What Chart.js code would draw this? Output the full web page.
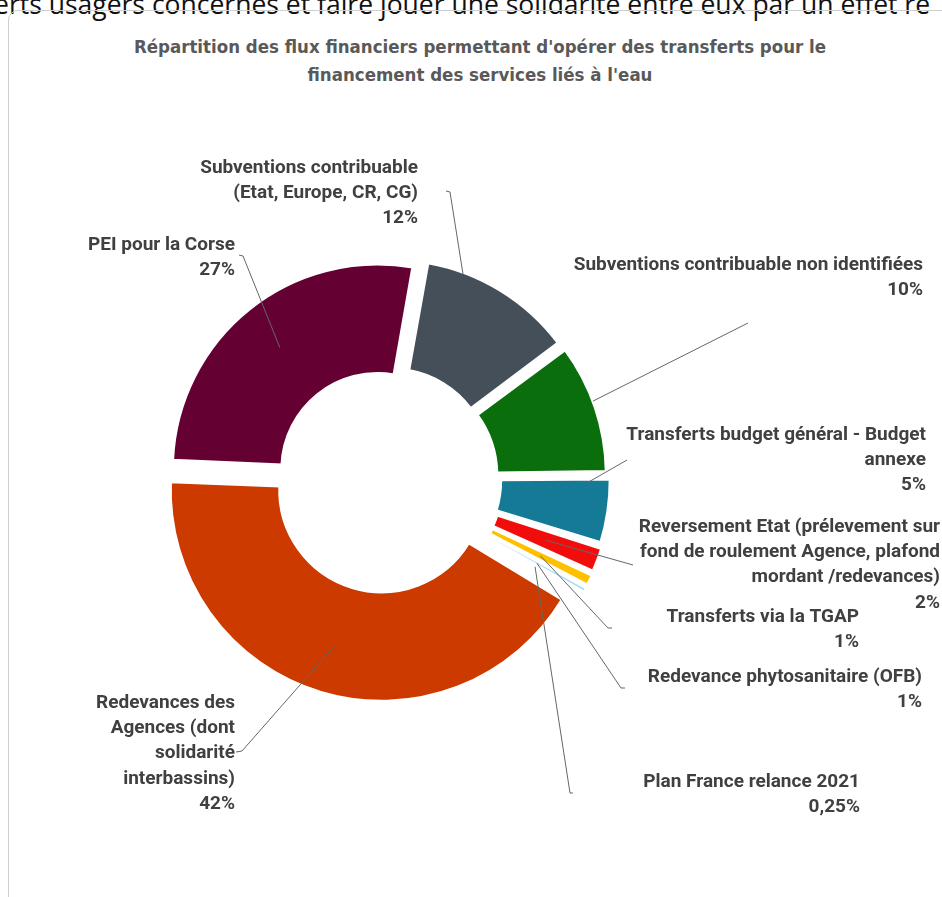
<!DOCTYPE html>
<html>
<head>
<meta charset="utf-8">
<script src="https://cdn.jsdelivr.net/npm/chart.js@4.4.1/dist/chart.umd.min.js"></script>
<style>
  html, body { margin: 0; padding: 0; background: #fff; }
  body { width: 942px; height: 897px; overflow: hidden; position: relative; }
  .lead { position: absolute; left: -6px; top: -11px; white-space: nowrap; font: 26.5px/30px "Open Sans", sans-serif; color: #111; }
  .card { position: absolute; left: 8px; top: 10px; width: 980px; height: 940px; border: 1px solid #cfcfcf; border-radius: 10px; box-sizing: border-box; }
  .title { position: absolute; left: 0; top: 33px; width: 960px; text-align: center; font: bold 18.5px/28px "DejaVu Sans Condensed", sans-serif; color: #595959; }
  canvas { position: absolute; left: 0; top: 0; }
</style>
</head>
<body>
<div class="lead">erts usagers concernés et faire jouer une solidarité entre eux par un effet re</div>
<div class="card"></div>
<div class="title">Répartition des flux financiers permettant d'opérer des transferts pour le<br>financement des services liés à l'eau</div>
<canvas id="c" width="942" height="897"></canvas>
<script>
// slices, clockwise from 9 o'clock
const categories = [
  'PEI pour la Corse',
  'Subventions contribuable (Etat, Europe, CR, CG)',
  'Subventions contribuable non identifiées',
  'Transferts budget général - Budget annexe',
  'Reversement Etat (prélevement sur fond de roulement Agence, plafond mordant /redevances)',
  'Transferts via la TGAP',
  'Redevance phytosanitaire (OFB)',
  'Plan France relance 2021',
  'Redevances des Agences (dont solidarité interbassins)'
];
const shares = [27, 12, 10, 5, 2, 1, 0.5, 0.25, 42];
const shareText = ['27%', '12%', '10%', '5%', '2%', '1%', '1%', '0,25%', '42%'];
const labelLines = [
  ['PEI pour la Corse'],
  ['Subventions contribuable', '(Etat, Europe, CR, CG)'],
  ['Subventions contribuable non identifiées'],
  ['Transferts budget général - Budget', 'annexe'],
  ['Reversement Etat (prélevement sur', 'fond de roulement Agence, plafond', 'mordant /redevances)'],
  ['Transferts via la TGAP'],
  ['Redevance phytosanitaire (OFB)'],
  ['Plan France relance 2021'],
  ['Redevances des', 'Agences (dont', 'solidarité', 'interbassins)']
];
const colors = ['#650033', '#454f59', '#0a6e0c', '#157a96', '#f20d0d', '#ffc000', '#a6dcf2', '#8cc8e6', '#cc3a00'];
const borders = [3, 3, 3, 3, 2.5, 2, 1.5, 1, 3];

// label placement: right edge x, centre y of first line
const labelPos = [[235, 245], [418, 168], [923, 265], [926, 435], [940, 527], [859, 617], [922, 677], [860, 782], [235, 703]];
const lineGap = 25.3;
// leader line: end near label, elbow
const leaders = [
  [[239, 255], [243, 256]],
  [[446, 191], [450, 192]],
  [[748, 323], [748, 323]],
  [[627, 460], [627, 460]],
  [[633, 565], [633, 565]],
  [[612, 628], [608, 628]],
  [[625, 688], [621, 688]],
  [[573, 793], [570, 793]],
  [[236, 752], [242, 751]]
];
// where the leader touches the slice: fraction along the angle, fraction across the ring
const anchors = [[0.5, 0.55], [0.24, 0.98], [0.45, 1.0], [0.08, 0.79], [0.5, 0.5], [0.5, 0.5], [0.5, 0.5], [0.5, 0.5], [0.5, 0.55]];

const callouts = {
  id: 'callouts',
  afterDatasetsDraw(chart) {
    const ctx = chart.ctx;
    const arcs = chart.getDatasetMeta(0).data;
    ctx.save();
    arcs.forEach((arc, i) => {
      const p = arc.getProps(['x', 'y', 'startAngle', 'endAngle', 'innerRadius', 'outerRadius'], true);
      const off = (arc.options.offset || 0) / 4;
      const circ = p.endAngle - p.startAngle;
      const mid = (p.startAngle + p.endAngle) / 2;
      const grow = off * (1 - Math.sin(Math.min(Math.PI, circ)));
      const a = p.startAngle + anchors[i][0] * circ;
      const r = p.innerRadius + anchors[i][1] * (p.outerRadius - p.innerRadius) + grow;
      const ax = p.x + Math.cos(mid) * off + Math.cos(a) * r;
      const ay = p.y + Math.sin(mid) * off + Math.sin(a) * r;

      ctx.strokeStyle = '#666666';
      ctx.lineWidth = 1;
      ctx.beginPath();
      ctx.moveTo(leaders[i][0][0], leaders[i][0][1]);
      ctx.lineTo(leaders[i][1][0], leaders[i][1][1]);
      ctx.lineTo(ax, ay);
      ctx.stroke();

      ctx.fillStyle = '#404040';
      ctx.font = 'bold 19px Roboto';
      ctx.textAlign = 'right';
      ctx.textBaseline = 'middle';
      labelLines[i].concat(shareText[i]).forEach((s, k) => {
        ctx.fillText(s, labelPos[i][0], labelPos[i][1] + k * lineGap);
      });
    });
    ctx.restore();
  }
};

new Chart(document.getElementById('c'), {
  type: 'doughnut',
  data: {
    labels: categories,
    datasets: [{
      data: shares,
      backgroundColor: colors,
      borderColor: '#ffffff',
      borderWidth: borders,
      offset: 48,
      hoverOffset: 0
    }]
  },
  options: {
    responsive: false,
    animation: false,
    events: [],
    rotation: 272.5,
    radius: 205,
    cutout: '46.6%',
    layout: { padding: { left: 165, right: 337, top: 258.5, bottom: 198.5 } },
    plugins: {
      legend: { display: false },
      tooltip: { enabled: false },
      title: { display: false }
    }
  },
  plugins: [callouts]
});
</script>
</body>
</html>
